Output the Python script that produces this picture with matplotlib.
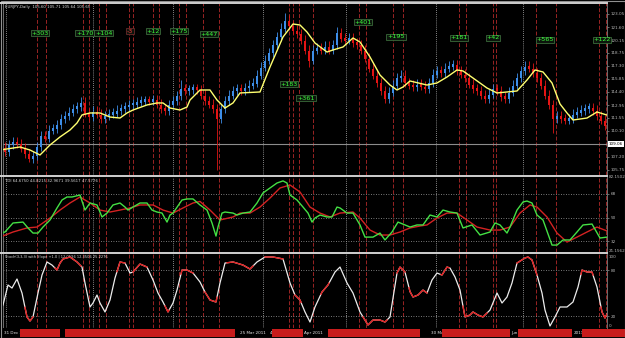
import numpy as np
import matplotlib
matplotlib.use('Agg')
import matplotlib.pyplot as plt
from matplotlib.lines import Line2D
from matplotlib.patches import Rectangle

# EURJPY daily closes, one value per bar
closes = [
    107.8, 108.6, 108.9, 108.7, 108.2, 107.6, 107.1, 107.4, 108.4, 109.6,
    109.3, 110.2, 110.4, 110.8, 111.5, 111.8, 112.2, 112.6, 112.8, 113.3,
    112.1, 111.7, 112.3, 112.0, 111.5, 111.8, 112.0, 112.1, 112.4, 112.6,
    112.8, 113.0, 113.1, 113.3, 113.4, 113.5, 113.4, 113.6, 113.1, 112.6,
    112.4, 113.0, 113.5, 114.0, 114.8, 114.6, 114.7, 114.8, 114.7, 114.1,
    113.5, 113.1, 112.6, 111.5, 112.6, 113.5, 114.1, 114.6, 114.8, 114.6,
    114.9, 115.2, 115.4, 116.3, 117.2, 117.95, 118.8, 119.7, 120.6, 121.5,
    122.4, 121.8, 121.3, 120.9, 120.2, 119.1, 117.95, 119.1, 119.3, 119.1,
    119.5, 119.1, 119.7, 121.0, 120.4, 120.2, 120.4, 119.9, 119.7, 119.1,
    118.2, 117.1, 116.3, 115.5, 114.6, 113.7, 114.4, 115.2, 116.0, 116.3,
    115.5, 115.2, 115.0, 115.3, 115.1, 114.8, 115.5, 116.4, 116.8, 116.6,
    117.1, 117.3, 117.5, 116.8, 116.4, 116.0, 115.3, 114.8, 114.6, 114.1,
    113.7, 114.2, 114.8, 114.6, 113.9, 113.7, 114.4, 115.2, 116.0, 116.8,
    117.3, 117.1, 116.6, 116.0, 115.2, 114.1, 113.0, 111.5, 111.8, 111.5,
    111.3, 111.5, 112.0, 112.2, 112.4, 112.6, 112.7, 112.4, 111.8, 111.3, 110.7,
]
first_open = 108.3
spike_high = {19: 113.8, 44: 115.7, 70: 123.2, 83: 121.6}
spike_low = {7: 106.5, 53: 105.75, 76: 117.2, 95: 113.2, 137: 109.9}

# yellow smoothed line (bar, price)
yellow_x = [-1.25, 3.75, 6.25, 8.75, 11.25, 13.75, 16.25, 18, 19.25, 21.25, 23.75, 26.25,
            28.75, 30.5, 32, 35.5, 38, 39.5, 41.25, 43.75, 45.5, 46.25, 48.75, 51.25, 53,
            55, 57, 58.75, 63.75, 66.25, 69.5, 72, 73.75, 75.5, 77.5, 80.5, 82, 84.5, 87,
            88.75, 91.25, 93.75, 96.25, 98, 99.5, 101.25, 105.5, 108, 110.5, 113, 114.5,
            117, 120.5, 123, 125.5, 128, 130.5, 132.5, 134.5, 136.75, 138.75, 140.5, 142,
            145.5, 148, 150.5]
yellow_y = [107.96, 108.30, 107.96, 107.41, 108.52, 109.41, 110.18, 110.96, 111.85, 112.07,
            112.07, 111.62, 111.51, 112.07, 112.40, 112.96, 113.18, 113.18, 112.62, 112.40,
            112.73, 113.51, 114.62, 114.62, 113.51, 112.62, 113.18, 114.29, 114.40, 117.17,
            120.50, 121.94, 121.83, 121.05, 119.83, 118.83, 119.06, 119.39, 120.39, 119.94,
            118.28, 116.28, 115.17, 114.62, 114.95, 115.62, 115.17, 115.40, 116.06, 116.84,
            116.73, 115.95, 114.84, 114.29, 114.40, 114.51, 115.73, 116.84, 116.62, 115.40,
            113.07, 112.07, 111.29, 111.51, 112.18, 111.84]

price_ticks = [123.05, 121.60, 120.15, 118.75, 117.30, 115.85, 114.40, 112.95,
               111.55, 110.10, 107.20, 105.75]
last_price = 108.63

# trade signals
signal_bars = [8, 10.25, 19.5, 21, 23.5, 25.25, 31, 32, 37, 38.5, 43.5, 45.25, 49.5, 53.5,
               71, 72, 73.5, 77, 88.5, 90.25, 97, 99.5, 113.5, 115.25, 122, 122.75,
               132.75, 137.75, 148.5, 150.25]
period_bars = [0.25, 22, 42, 64.5, 85.25, 107.75, 129.5]
trade_labels = ['+303', '+170', '+104', '-3', '+12', '+175', '+447', '+183', '+361',
                '+401', '+195', '+181', '+42', '+565', '+122']
label_bars = [8.75, 19.9, 24.7, 31.25, 37, 43.5, 51, 71, 75.25, 89.5, 97.75, 113.5,
              122, 135, 149.25]
label_prices = [120.94, 120.94, 120.94, 121.16, 121.16, 121.16, 120.83, 115.28, 113.73,
                122.16, 120.50, 120.39, 120.39, 120.17, 120.17]

# TDI panel
tdi_green_x = [-1, 0, 2, 4.5, 5.75, 7, 8.25, 9.5, 11.25, 13, 14.25, 15.5, 16.75, 18.75, 20,
               21.25, 23, 24.25, 25.5, 27, 28.75, 30, 30.75, 32, 33.75, 35.5, 36.75, 38,
               39.25, 40.5, 41.25, 42, 44.25, 45.5, 47, 48.75, 50.5, 51.75, 52.75, 53.25,
               54.25, 55, 57, 58, 59.5, 61.25, 63, 64.5, 66.25, 68, 69.5, 70.5, 71.25, 73,
               74.5, 75.75, 76.75, 77.5, 78.75, 80.5, 81.75, 83, 83.75, 85.5, 87, 88.75, 90,
               92, 93.75, 95, 96.75, 98.25, 100, 101.25, 103, 104.5, 106.25, 108, 109.5,
               111.25, 113, 114.5, 116.75, 118.75, 121.25, 122.5, 123.75, 125.5, 126.25,
               128, 129.5, 130.5, 131.75, 133, 134.5, 136.75, 138, 139.5, 141.25, 143,
               144.5, 146.75, 148.75, 150.5]
tdi_green = [38.1, 38.9, 45.8, 46.5, 42.0, 38.1, 38.1, 42.7, 48.1, 57.3, 63.4, 65.7, 65.7,
             67.2, 55.7, 61.1, 59.6, 50.4, 53.4, 59.6, 61.1, 58.0, 55.7, 58.0, 61.1, 61.1,
             55.7, 54.2, 53.4, 46.5, 51.9, 53.4, 63.4, 64.2, 64.2, 59.6, 55.7, 45.8, 35.8,
             42.7, 53.4, 54.2, 53.4, 51.9, 53.4, 54.2, 61.1, 68.8, 72.6, 76.4, 78.0, 76.4,
             67.2, 63.4, 58.0, 53.4, 46.5, 49.6, 51.9, 50.4, 50.4, 58.0, 57.3, 53.4, 53.4,
             44.3, 35.0, 35.0, 38.1, 32.8, 38.9, 46.5, 44.3, 42.7, 44.3, 44.3, 51.9, 50.4,
             55.7, 54.2, 53.4, 42.0, 44.3, 36.6, 38.9, 45.8, 44.3, 38.1, 42.7, 55.7, 61.9,
             62.6, 61.1, 51.9, 48.1, 28.9, 28.9, 32.8, 32.8, 38.9, 44.3, 45.0, 34.3, 35.0]
tdi_red_x = [-1.25, 2, 5.5, 8, 11.25, 13.75, 16.25, 18.75, 21.25, 23.75, 26.25, 28.75, 31.25,
             33.75, 37, 39.5, 42, 44.5, 47, 48.75, 51.25, 53.75, 57, 58.75, 61.25, 63.75,
             66.25, 68.75, 71.25, 73.75, 76.25, 78.75, 81.25, 83.75, 87, 88.75, 91.25,
             93.75, 96.25, 98.75, 101.25, 103.75, 105.5, 108, 110.5, 113, 115.5, 118,
             121.25, 123.75, 126.25, 128.75, 131.25, 133, 135.5, 138, 140.5, 143, 145.5,
             148, 150.5]
tdi_red = [35.0, 38.9, 42.0, 42.7, 49.6, 55.7, 61.1, 65.7, 61.1, 55.7, 54.2, 55.7, 57.3,
           59.6, 59.6, 55.7, 53.4, 57.3, 61.1, 62.3, 55.7, 48.1, 50.4, 53.4, 53.4, 58.0,
           64.9, 72.6, 74.9, 69.5, 58.0, 53.4, 50.4, 53.4, 54.2, 49.6, 40.4, 36.6, 36.6,
           38.9, 42.0, 43.5, 44.3, 49.6, 53.4, 53.4, 48.1, 42.7, 40.4, 40.4, 42.7, 53.4,
           59.6, 58.0, 50.4, 38.1, 31.2, 35.0, 38.9, 42.7, 39.7]

# Stochastic panel
stoch_x = [-1.25, -0.5, 0.75, 1.75, 3, 4.25, 5.5, 6.25, 7, 8.25, 9.25, 10.5, 11.75, 13,
           13.75, 14.5, 16.25, 18, 19.25, 20, 21.25, 22, 23, 23.75, 25, 26.25, 27.5, 28.75,
           30, 31.25, 32, 33.75, 35.5, 37, 38.25, 39.5, 40.75, 42, 43, 44.25, 45.5, 47,
           48.75, 50, 51.25, 52.75, 53.75, 55, 57, 59.5, 61.25, 63, 65, 67, 69.5, 71.25,
           72.5, 73.75, 75, 76.25, 77.5, 79.25, 80.75, 82.5, 83.75, 85.5, 87, 88.75, 90.75,
           92, 93.75, 95, 96.25, 98, 98.75, 100, 101.25, 102, 103.25, 104.5, 105.5, 106.75,
           108, 109.25, 110.5, 111.25, 112.5, 113.75, 115, 116.25, 117, 118.25, 119.5,
           121.25, 123, 124.25, 125.5, 126.75, 128, 130, 130.75, 131.75, 133, 134.25, 135,
           136.25, 137.5, 138.75, 140.5, 142, 143.25, 144.25, 145.5, 146.75, 148, 149.25,
           150, 150.75]
stoch = [27.9, 34.5, 60.6, 56.6, 68.4, 50.1, 18.9, 13.6, 18.9, 50.1, 73.6, 90.6, 86.6, 80.1,
         89.2, 94.5, 97.1, 90.6, 84.0, 63.2, 31.9, 37.1, 47.5, 37.1, 25.4, 41.0, 69.7, 90.6,
         89.2, 76.2, 77.5, 87.9, 84.0, 67.1, 50.1, 38.4, 25.4, 37.1, 54.0, 80.1, 80.1, 76.2,
         64.5, 51.4, 41.0, 38.4, 63.2, 89.2, 90.6, 86.6, 81.4, 90.6, 97.1, 97.1, 94.5, 63.2,
         47.5, 41.0, 25.4, 12.3, 31.9, 51.4, 60.6, 77.5, 84.0, 63.2, 50.1, 25.4, 8.4, 14.9,
         14.9, 12.3, 18.9, 76.2, 84.0, 77.5, 52.0, 44.9, 47.5, 54.0, 50.1, 67.1, 76.2, 73.6,
         84.0, 82.7, 71.0, 54.0, 18.9, 21.4, 25.4, 21.4, 18.9, 27.9, 50.1, 37.1, 44.9, 63.2,
         89.2, 95.8, 97.1, 93.2, 73.6, 50.1, 27.9, 7.1, 18.9, 31.9, 31.9, 38.4, 57.9, 80.1,
         77.5, 77.5, 57.9, 25.4, 17.5, 25.4]
stoch_red = [(5, 7), (12.5, 19), (28, 30), (32, 35.5), (40, 41), (44, 47), (50, 53),
             (55.5, 62), (65, 69.5), (72.5, 74), (79, 81), (89.5, 95.5), (98, 100),
             (101, 105.5), (109, 111), (114.5, 120.5), (128, 133), (144, 147), (149, 150.5)]

# date row
date_text = ['31 Dec 2010', '25 Mar 2011', '4', 'Apr 2011', '30 May 2011', 'Jun 2011', '2011']
date_bars = [-0.3, 58.8, 66.2, 74.8, 106.4, 126.5, 142.2]
date_red = [(3.75, 13.75), (15, 57.5), (66.75, 74.6), (80.8, 103.75), (109.3, 126.25),
            (128.2, 141.75), (144.25, 155)]

W, H = 625, 338
BG = 'black'
fig = plt.figure(figsize=(W / 100, H / 100), dpi=100, facecolor=BG)


def px_axes(x0, y0, x1, y1):
    a = fig.add_axes([x0 / W, 1 - y1 / H, (x1 - x0) / W, (y1 - y0) / H])
    a.set_facecolor(BG)
    a.set_xlim(-0.5, 150.5)
    a.set_xticks([])
    for s in a.spines.values():
        s.set_color('#808080')
        s.set_linewidth(0.6)
    a.spines['top'].set_visible(False)
    a.spines['bottom'].set_visible(False)
    a.yaxis.tick_right()
    a.tick_params(axis='y', labelsize=3, colors='#b8b8b8', length=1.5, width=0.4, pad=1)
    return a


ax1 = px_axes(3, 3, 607, 175)
ax2 = px_axes(3, 177, 607, 252)
ax3 = px_axes(3, 254, 607, 328)
axd = px_axes(3, 328, 607, 338)

for a in (ax1, ax2, ax3):
    for b in period_bars:
        a.axvline(b, color='#b0b0b0', lw=0.6, ls=(0, (1, 1.5)), zorder=1)
    for b in signal_bars:
        a.axvline(b, color='#9a2424', lw=0.7, ls=(0, (4, 2)), zorder=1)

# candles
x = np.arange(len(closes))
c = np.array(closes)
o = np.array([first_open] + closes[:-1])
cols = np.where(c >= o, '#3d8ee8', '#e41414')
lo_body = np.minimum(o, c)
hi_body = np.maximum(o, c)
wick = 0.5
highs = hi_body + wick
lows = lo_body - wick
for k, v in spike_high.items():
    highs[k] = v
for k, v in spike_low.items():
    lows[k] = v
ax1.vlines(x, lows, highs, colors=cols, lw=0.6, zorder=2)
ax1.bar(x, np.maximum(hi_body - lo_body, 0.3), bottom=lo_body - 0.1, width=0.7, color=cols,
        linewidth=0, zorder=3)
ax1.plot(yellow_x, yellow_y, color='#ffff70', lw=1.0, zorder=4)
ax1.axhline(last_price, color='#8c8c8c', lw=0.8, zorder=1)
ax1.set_ylim(105.19, 124.27)
ax1.set_yticks(price_ticks)
ax1.set_yticklabels(['%.2f' % v for v in price_ticks])
ax1.text(1.003, last_price, '109.06', transform=ax1.get_yaxis_transform(), fontsize=3,
         color='black', va='center', ha='left',
         bbox=dict(boxstyle='square,pad=0.15', fc='white', ec='none'))
ax1.text(0.004, 0.99, 'EURJPY,Daily  105.60 105.71 105.64 105.65', transform=ax1.transAxes,
         fontsize=2.8, color='#d8d8d8', va='top', ha='left')

for s, b, p in zip(trade_labels, label_bars, label_prices):
    neg = s.startswith('-')
    ax1.text(b, p, s, fontsize=4.6, ha='center', va='center', zorder=6,
             color='#ff3a3a' if neg else '#3cff3c',
             bbox=dict(boxstyle='square,pad=0.12', fc='#0c140c',
                       ec='#6a2a2a' if neg else '#3a6a3a', lw=0.6))

# TDI
ax2.plot(tdi_red_x, tdi_red, color='#d42222', lw=1.0, zorder=3)
ax2.plot(tdi_green_x, tdi_green, color='#44e044', lw=1.0, zorder=4)
ax2.set_ylim(23.6, 81.0)
for lv in (68, 50, 32):
    ax2.axhline(lv, color='#a0a0a0', lw=0.6, ls=(0, (1, 2)), zorder=1)
ax2.set_yticks([68, 50, 32])
ax2.set_yticklabels(['68', '50', '32'])
ax2.text(1.003, 1.0, '82.1502', transform=ax2.transAxes, fontsize=3, color='#b8b8b8',
         va='center', ha='left')
ax2.text(1.003, 0.02, '21.1562', transform=ax2.transAxes, fontsize=3, color='#b8b8b8',
         va='center', ha='left')
ax2.text(0.004, 0.97, 'TDI 64.6750 44.8215 32.9671 39.5617 47.5776', transform=ax2.transAxes,
         fontsize=2.8, color='#d8d8d8', va='top', ha='left')

# Stochastic
ax3.plot(stoch_x, stoch, color='#ececec', lw=0.9, zorder=3)
for a, b in stoch_red:
    xs = np.linspace(a, b, 40)
    ax3.plot(xs, np.interp(xs, stoch_x, stoch), color='#e42020', lw=1.0, zorder=4)
ax3.set_ylim(4.5, 101)
for lv in (80, 20):
    ax3.axhline(lv, color='#a0a0a0', lw=0.6, ls=(0, (1, 2)), zorder=1)
ax3.set_yticks([80, 20])
ax3.set_yticklabels(['80', '20'])
ax3.text(1.003, 0.96, '100', transform=ax3.transAxes, fontsize=3, color='#b8b8b8',
         va='center', ha='left')
ax3.text(1.003, 0.03, '0', transform=ax3.transAxes, fontsize=3, color='#b8b8b8',
         va='center', ha='left')
ax3.text(0.004, 0.98, 'Stoch(3,3,3) with Slope +1.0 | 12.0596 12.3506 25.2276',
         transform=ax3.transAxes, fontsize=2.6, color='#d8d8d8', va='top', ha='left')

# date row
axd.set_ylim(0, 1)
axd.set_yticks([])
for s in axd.spines.values():
    s.set_visible(False)
for t, b in zip(date_text, date_bars):
    axd.text(b, 0.5, t, fontsize=3, color='#e8e8e8', va='center', ha='left', zorder=2)
for a, b in date_red:
    axd.add_patch(Rectangle((a, 0.1), b - a, 0.8, fc='#c81c1c', ec='none', zorder=3,
                            clip_on=False))

# panel separators and frame
for yy in (3, 175.8, 253):
    fig.add_artist(Line2D([0, 607 / W], [1 - yy / H] * 2, color='#d0d0d0', lw=1.4))
fig.add_artist(Rectangle((0.5 / W, 0.5 / H), 1 - 1 / W, 1 - 1 / H, transform=fig.transFigure,
                         fill=False, ec='#909090', lw=0.8))

fig.savefig('out.png', dpi=100, facecolor=BG)
